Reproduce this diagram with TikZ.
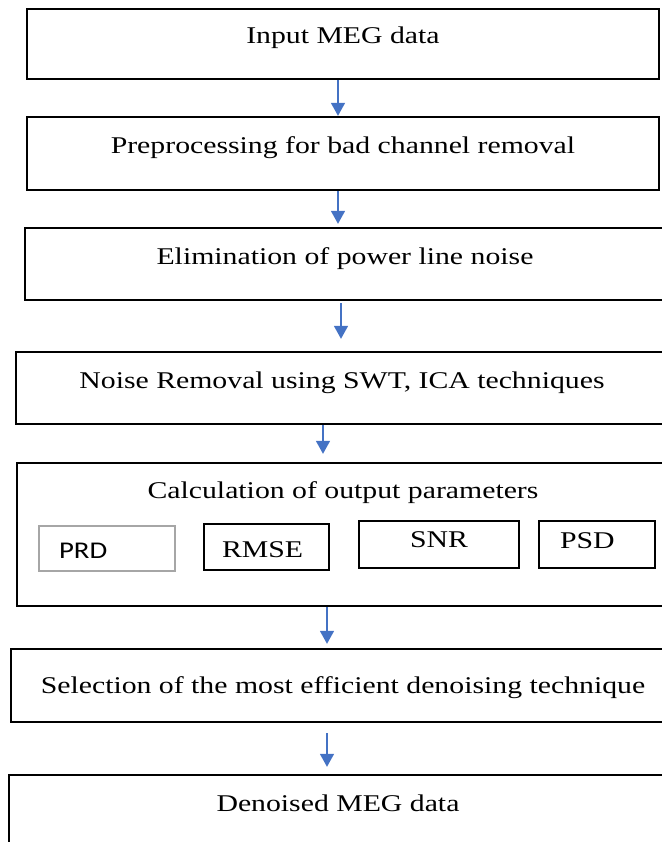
\documentclass[tikz,border=0pt]{standalone}
\usepackage{fontspec}
\setmainfont[FakeStretch=1.24]{Liberation Serif}
\newfontfamily\calibrifont[FakeStretch=1.2]{Carlito}
\usetikzlibrary{arrows.meta}
\definecolor{arrowblue}{HTML}{4472C4}

\begin{document}
\begin{tikzpicture}[x=0.5pt, y=-0.5pt,
  stage/.style={draw, line width=1.2pt, inner ysep=0pt, font=\fontsize{12}{14}\selectfont},
  param/.style={draw, line width=0.65pt, inner ysep=0pt, font=\fontsize{12}{14}\selectfont},
  flow/.style={draw=arrowblue, line width=0.8pt, -{Triangle[length=6.5pt,width=7pt]}}]
  \useasboundingbox (0,0) rectangle (662,842);
  \clip (0,0) rectangle (662,842);

  % Stufen
  \node[stage, minimum width=316pt, text height=17pt, text depth=18pt] (input) at (343,44) {Input MEG data};
  \node[stage, minimum width=316pt, text height=18pt, text depth=18.5pt] (prep) at (343,153.5) {Preprocessing for bad channel removal};
  \node[stage, minimum width=320pt, text height=18pt, text depth=18pt] (power) at (345,264) {Elimination of power line noise};
  \node[stage, minimum width=326pt, text height=18pt, text depth=18pt] (denoise) at (342,388) {Noise Removal using SWT, ICA techniques};
  \node[stage, minimum width=326pt, text height=17.5pt, text depth=54pt] (calc) at (343,534.5) {Calculation of output parameters};
  \node[stage, minimum width=332pt, text height=22pt, text depth=14.5pt] (select) at (343,685.5) {Selection of the most efficient denoising technique};
  \node[stage, minimum width=329pt, text height=18pt, text depth=24.5pt] (output) at (338,817.5) {Denoised MEG data};

  % Parameter
  \node[param, draw=gray!70, inner xsep=10pt, text width=48pt, align=left, text height=16pt, text depth=6.5pt, font=\calibrifont\fontsize{12}{14}\selectfont] (prd) at (107,548.5) {PRD};
  \node[param, inner xsep=9pt, text width=44.5pt, align=left, text height=16.5pt, text depth=6.5pt] (rmse) at (266.5,547) {RMSE};
  \node[param, minimum width=80pt, text height=13pt, text depth=10.5pt] (snr) at (439,544.5) {SNR};
  \node[param, inner xsep=10.5pt, text width=37pt, align=left, text height=13.5pt, text depth=10pt] (psd) at (597,544.5) {PSD};

  % Pfeile
  \draw[flow] (input.south -| 338,0) -- (prep.north -| 338,0);
  \draw[flow, shorten >=1.5pt] (prep.south -| 338,0) -- (power.north -| 338,0);
  \draw[flow, shorten <=1pt, shorten >=6pt] (power.south -| 341,0) -- (denoise.north -| 341,0);
  \draw[flow, shorten >=4pt] (denoise.south -| 323,0) -- (calc.north -| 323,0);
  \draw[flow, shorten >=2pt] (calc.south -| 327,0) -- (select.north -| 327,0);
  \draw[flow, shorten <=5pt, shorten >=3.5pt] (select.south -| 327,0) -- (output.north -| 327,0);
\end{tikzpicture}
\end{document}
